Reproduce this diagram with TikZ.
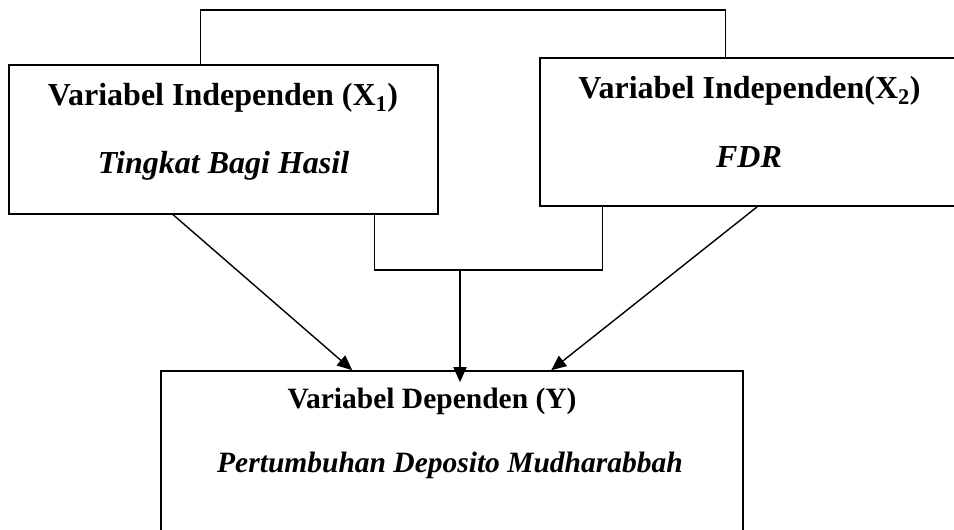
\documentclass[tikz,border=0pt]{standalone}
\usepackage{fontspec}
\setmainfont{Liberation Serif}
\usetikzlibrary{arrows.meta, positioning, calc}

\begin{document}
\begin{tikzpicture}[
  x=1pt, y=-1pt,
  >={Triangle[length=15pt,width=13pt]},
  every node/.style={inner sep=0pt},
  box/.style={rectangle, line width=1.6pt, draw=black},
  head/.style={anchor=base, font=\bfseries\fontsize{#1}{#1}\selectfont},
  head/.default=32,
  sub/.style={anchor=base, font=\bfseries\itshape\fontsize{#1}{#1}\selectfont},
  sub/.default=32,
  uniform/.style={line width=1.4pt, draw=black}
]
  \useasboundingbox (0,0) rectangle (954,530);
  % ----- boxes -----
  \node[box, minimum width=429pt, minimum height=149pt] (X1) at (223.5,139.5) {};
  \node[box, minimum width=430pt, minimum height=148pt] (X2) at (755,132) {};
  \node[box, minimum width=582pt, minimum height=179pt] (Y) at (452,460.5) {};
  % ----- texts -----
  \node[head] (X1a) at (223,105) {Variabel Independen (X\textsubscript{1})};
  \node[sub] (X1b) at (223.5,173) {Tingkat Bagi Hasil};
  \node[head] (X2a) at (749.5,98) {Variabel Independen(X\textsubscript{2})};
  \node[sub] (X2b) at (749,167) {FDR};
  \node[head=29.5] (Ya) at (432,408) {Variabel Dependen (Y)};
  \node[sub=29.5] (Yb) at (450,472) {Pertumbuhan Deposito Mudharabbah};
  % ----- brackets joining X1 and X2 -----
  \coordinate (topbar) at (463,10);
  \coordinate (midbar) at (460,270);
  \draw[uniform] ([xshift=192pt]X1.north west) |- (topbar) -| ([xshift=186pt]X2.north west);
  \draw[uniform] ([xshift=366pt]X1.south west) |- (midbar) -| ([xshift=63pt]X2.south west);
  % ----- arrows into Y -----
  \draw[->,uniform] (midbar) -- ([yshift=-12pt]Y.north -| midbar);
  \draw[->,uniform] ([xshift=165pt]X1.south west) -- ([xshift=192pt]Y.north west);
  \draw[->,uniform] ([xshift=218pt]X2.south west) -- ([xshift=391pt]Y.north west);
\end{tikzpicture}
\end{document}
